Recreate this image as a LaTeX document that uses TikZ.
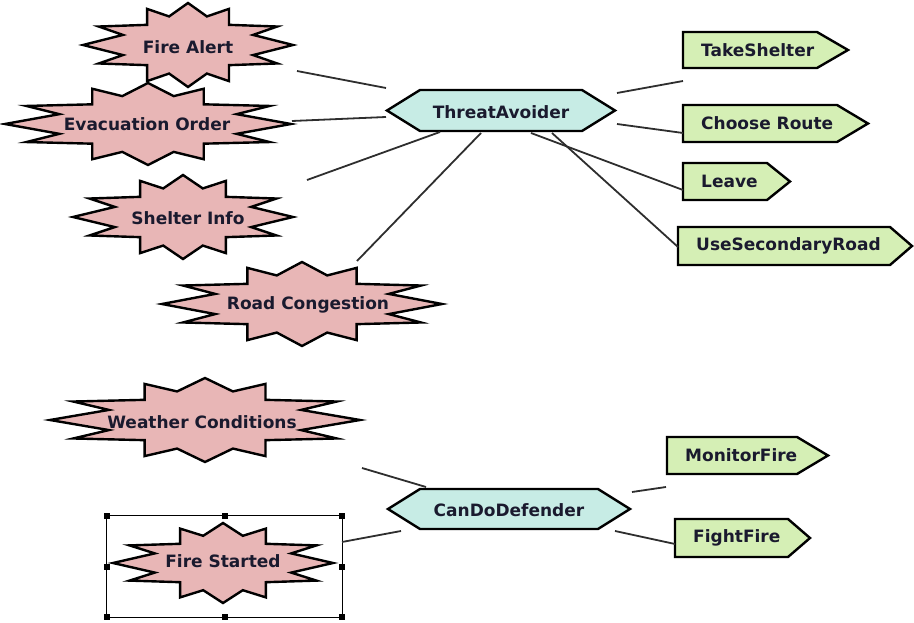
\documentclass[tikz,border=0pt]{standalone}
\usepackage{fontspec}
\setmainfont{DejaVu Sans}
\definecolor{burstpink}{HTML}{E8B6B6}
\definecolor{hexcyan}{HTML}{C7ECE5}
\definecolor{taggreen}{HTML}{D5EFB5}
\definecolor{labelink}{HTML}{1A1A2E}
\definecolor{linkgray}{HTML}{2E2E2E}

% starburst event: name, cx, cy, half width, half height, label x, label y, text
\newcommand\burstnode[8]{%
  \filldraw[burstshape, shift={(#2,#3)}, x=#4pt, y=#5pt]
    (0,1) -- (-.18,.68) -- (-.39,.86) -- (-.39,.48) -- (-.85,.44) -- (-.62,.24)
    -- (-1,0) -- (-.62,-.24) -- (-.85,-.44) -- (-.39,-.48) -- (-.39,-.86)
    -- (-.18,-.68) -- (0,-1) -- (.18,-.68) -- (.39,-.86) -- (.39,-.48)
    -- (.85,-.44) -- (.62,-.24) -- (1,0) -- (.62,.24) -- (.85,.44)
    -- (.39,.48) -- (.39,.86) -- (.18,.68) -- cycle;
  \node[lbl] (#1) at (#6,#7) {#8};}

% hexagonal agent: name, cx, cy, half width, inset, half height, text
\newcommand\hexnode[7]{%
  \filldraw[hexshape] ({#2-#4},#3) -- ({#2-#4+#5},{#3-#6}) -- ({#2+#4-#5},{#3-#6})
    -- ({#2+#4},#3) -- ({#2+#4-#5},{#3+#6}) -- ({#2-#4+#5},{#3+#6}) -- cycle;
  \node[lbl] (#1) at (#2,{#3+1.5}) {#7};}

% pointed action tag: name, left, body right, tip, top, bottom, text
\newcommand\actionnode[7]{%
  \filldraw[tagshape] (#2,#5) -- (#3,#5) -- (#4,{(#5+#6)/2}) -- (#3,#6)
    -- (#2,#6) -- cycle;
  \node[lbl, anchor=west] (#1) at ({#2+18},{(#5+#6)/2}) {#7};}

\begin{document}
\begin{tikzpicture}[x=1pt, y=-1pt,
  lbl/.style={font=\bfseries\fontsize{17}{20}\selectfont, text=labelink, inner sep=0pt},
  burstshape/.style={draw=black, fill=burstpink, line width=2.4pt, line join=miter},
  hexshape/.style={draw=black, fill=hexcyan, line width=2.4pt, line join=miter},
  tagshape/.style={draw=black, fill=taggreen, line width=2.4pt, line join=miter},
  link/.style={draw=linkgray, line width=1.8pt},
  selframe/.style={draw=black, line width=1.2pt},
  handle/.style={fill=black, minimum size=6pt, inner sep=0pt, draw=none}]

\useasboundingbox (0,0) rectangle (914,623);

% events
\burstnode{firealert}{188}{45}{105}{42}{188}{47}{Fire Alert}
\burstnode{evac}{148}{124}{143}{41}{147}{124}{Evacuation Order}
\burstnode{shelter}{183}{217}{110}{42}{188}{218}{Shelter Info}
\burstnode{road}{302}{304}{140}{42}{308}{305}{Road Congestion}
\burstnode{weather}{205}{420}{155}{42}{202}{422}{Weather Conditions}
\burstnode{firestarted}{223}{563}{110}{40}{223}{561}{Fire Started}

% agents
\hexnode{threat}{501}{110.5}{114}{33}{20.5}{ThreatAvoider}
\hexnode{defender}{509}{509}{121}{32}{20}{CanDoDefender}

% actions
\actionnode{takeshelter}{683}{817}{848}{32}{68}{TakeShelter}
\actionnode{route}{683}{837}{868}{105}{142}{Choose Route}
\actionnode{leave}{683}{767}{790}{163}{200}{Leave}
\actionnode{secroad}{678}{890}{912}{227}{265}{UseSecondaryRoad}
\actionnode{monitor}{667}{797}{828}{437}{474}{MonitorFire}
\actionnode{fight}{675}{788}{810}{519}{557}{FightFire}

% selection frame around Fire Started
\node[draw=none, inner sep=0pt, minimum width=235pt, minimum height=101pt] (sel) at (224.5,566.5) {};
\draw[selframe] (sel.north west) rectangle (sel.south east);
\foreach \a in {north west, north, north east, west, east, south west, south, south east}
  \node[handle] at (sel.\a) {};

% connector end points
\coordinate (fa-o) at (297,71);   \coordinate (ta-fa) at (386,88);
\coordinate (eo-o) at (292,121);  \coordinate (ta-eo) at (386,117);
\coordinate (si-o) at (307,180);  \coordinate (ta-si) at (440,132);
\coordinate (rc-o) at (357,261);  \coordinate (ta-rc) at (481,133);
\coordinate (ta-ts) at (617,93);  \coordinate (ts-i) at (683,81);
\coordinate (ta-cr) at (617,124); \coordinate (cr-i) at (683,133);
\coordinate (ta-lv) at (531,133); \coordinate (lv-i) at (683,190);
\coordinate (ta-sr) at (552,133); \coordinate (sr-i) at (678,247);
\coordinate (wc-o) at (362,468);  \coordinate (cd-wc) at (426,487);
\coordinate (fs-o) at (342,542);  \coordinate (cd-fs) at (401,531);
\coordinate (cd-mf) at (632,492); \coordinate (mf-i) at (666,487);
\coordinate (cd-ff) at (615,531); \coordinate (ff-i) at (675,544);

% connectors
\draw[link] (fa-o) -- (ta-fa);
\draw[link] (eo-o) -- (ta-eo);
\draw[link] (si-o) -- (ta-si);
\draw[link] (rc-o) -- (ta-rc);
\draw[link] (ta-ts) -- (ts-i);
\draw[link] (ta-cr) -- (cr-i);
\draw[link] (ta-lv) -- (lv-i);
\draw[link] (ta-sr) -- (sr-i);
\draw[link] (wc-o) -- (cd-wc);
\draw[link] (fs-o) -- (cd-fs);
\draw[link] (cd-mf) -- (mf-i);
\draw[link] (cd-ff) -- (ff-i);
\end{tikzpicture}
\end{document}
